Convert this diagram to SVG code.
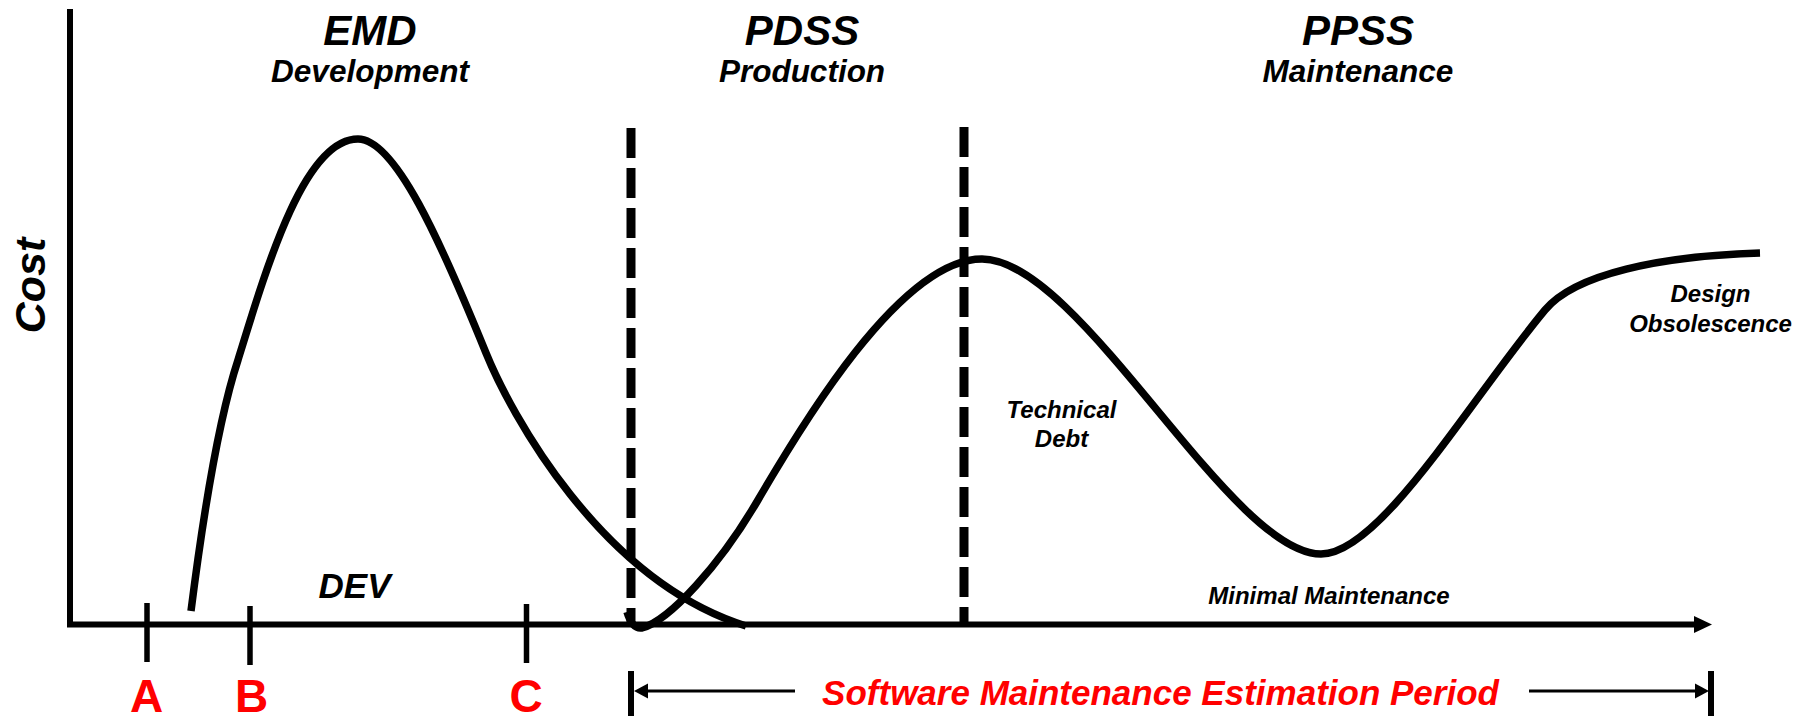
<svg xmlns="http://www.w3.org/2000/svg" width="1814" height="716" viewBox="0 0 1814 716">
  <defs>
    <marker id="axisHead" markerUnits="userSpaceOnUse" markerWidth="19" markerHeight="18" refX="0" refY="9" orient="auto">
      <path d="M0,0.5 L18,9 L0,17.5 z" fill="#000"/>
    </marker>
    <marker id="thinHead" markerUnits="userSpaceOnUse" markerWidth="16" markerHeight="16" refX="0" refY="8" orient="auto">
      <path d="M0,0.5 L14,8 L0,15.5 z" fill="#000"/>
    </marker>
    <style>
      .lbl { font-family: "Liberation Sans", Arial, sans-serif; font-weight: bold; font-style: italic; fill: #000; text-anchor: middle; }
      .red { font-family: "Liberation Sans", Arial, sans-serif; font-weight: bold; fill: #FF0000; text-anchor: middle; }
      .curve { fill: none; stroke: #000; stroke-width: 7.5; stroke-linecap: butt; stroke-linejoin: round; }
      .dash { stroke: #000; stroke-width: 9; stroke-dasharray: 30 10; }
      .tick { stroke: #000; stroke-width: 5.5; }
      .axis { stroke: #000; stroke-width: 6; fill: none; }
    </style>
  </defs>
  <rect width="1814" height="716" fill="#fff"/>

  <g id="axes">
    <line class="axis" x1="70" y1="9" x2="70" y2="627"/>
    <line class="axis" x1="67" y1="624.5" x2="1694" y2="624.5" marker-end="url(#axisHead)"/>
    <line class="tick" x1="147" y1="603" x2="147" y2="662"/>
    <line class="tick" x1="250" y1="606" x2="250" y2="665"/>
    <line class="tick" x1="526.5" y1="604" x2="526.5" y2="663"/>
  </g>

  <g id="phase-dividers">
    <line class="dash" x1="631" y1="128" x2="631" y2="622"/>
    <line class="dash" x1="964" y1="127" x2="964" y2="622"/>
  </g>

  <g id="connectors">
    <path id="dev-curve" class="curve" d="M191,611 C200,540 215,430 238,360 C268,262 305,139 358,139 C395,139 440,240 486,353 C510,412 600,580 746,626"/>
    <path id="maint-curve" class="curve" d="M627,612 C630,622 635,629 642,628 C670,620 720,565 758,500 C800,428 900,259 982,259 C1080,259 1230,554 1321,554 C1380,554 1470,400 1545,310 C1575,274 1660,256 1760,253"/>
  </g>

  <g id="estimation-period">
    <line x1="631" y1="671" x2="631" y2="716" stroke="#000" stroke-width="6"/>
    <line x1="1711" y1="671" x2="1711" y2="716" stroke="#000" stroke-width="6"/>
    <line x1="795" y1="691" x2="648" y2="691" stroke="#000" stroke-width="3" marker-end="url(#thinHead)"/>
    <line x1="1529" y1="691" x2="1695" y2="691" stroke="#000" stroke-width="3" marker-end="url(#thinHead)"/>
    <text class="red" x="1160.5" y="705" font-size="35" font-style="italic">Software Maintenance Estimation Period</text>
  </g>

  <g id="header-emd">
    <text class="lbl" x="370" y="45" font-size="42">EMD</text>
    <text class="lbl" x="370" y="82" font-size="31.5">Development</text>
  </g>
  <g id="header-pdss">
    <text class="lbl" x="802" y="45" font-size="42">PDSS</text>
    <text class="lbl" x="802" y="82" font-size="31.5">Production</text>
  </g>
  <g id="header-ppss">
    <text class="lbl" x="1358" y="45" font-size="42">PPSS</text>
    <text class="lbl" x="1358" y="82" font-size="31.5">Maintenance</text>
  </g>

  <g id="y-label">
    <text class="lbl" x="45" y="285.5" font-size="43" transform="rotate(-90 45 285.5)">Cost</text>
  </g>

  <g id="annotations">
    <text class="lbl" x="354.5" y="598" font-size="35">DEV</text>
    <text class="lbl" x="1061.5" y="418" font-size="24">Technical</text>
    <text class="lbl" x="1061.5" y="447" font-size="24">Debt</text>
    <text class="lbl" x="1710.5" y="302" font-size="24">Design</text>
    <text class="lbl" x="1710.5" y="332" font-size="24">Obsolescence</text>
    <text class="lbl" x="1329" y="604" font-size="24">Minimal Maintenance</text>
  </g>

  <g id="milestones">
    <text class="red" x="146.7" y="712" font-size="46">A</text>
    <text class="red" x="251.7" y="712" font-size="46">B</text>
    <text class="red" x="526" y="712" font-size="46">C</text>
  </g>
</svg>
